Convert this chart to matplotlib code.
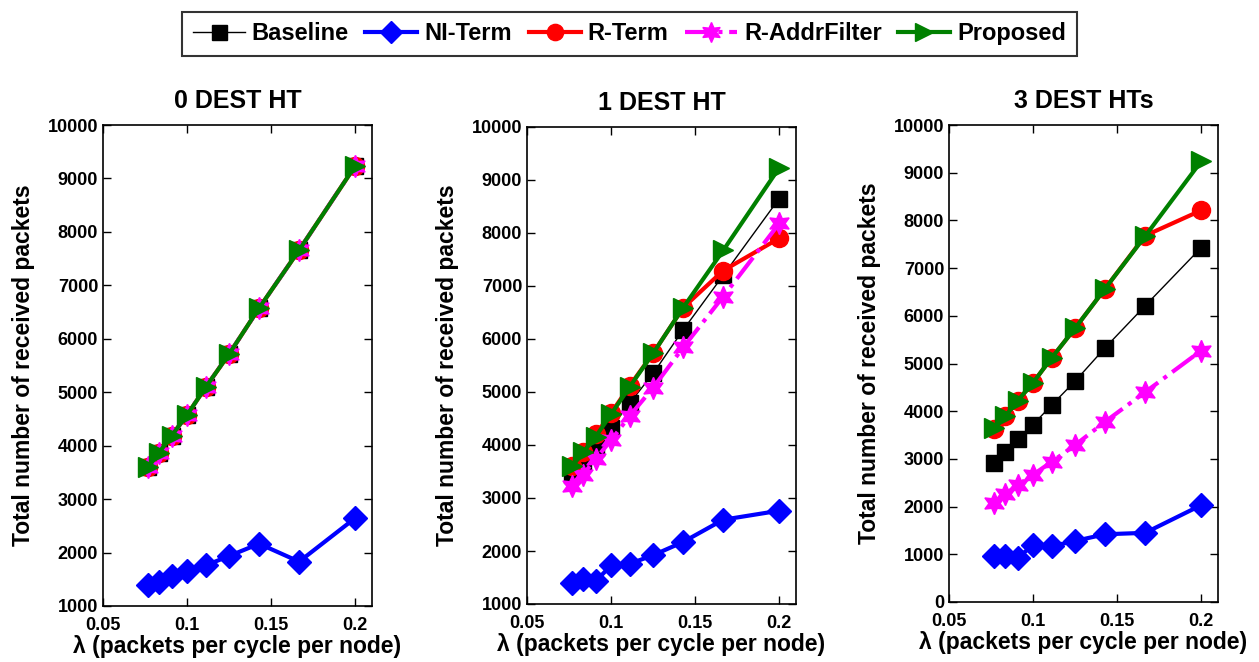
import matplotlib
matplotlib.use("Agg")
import matplotlib.pyplot as plt

plt.rcParams["font.family"] = ["Liberation Sans", "DejaVu Sans"]
plt.rcParams["font.weight"] = "bold"

lam = [1 / 13, 1 / 12, 1 / 11, 1 / 10, 1 / 9, 1 / 8, 1 / 7, 1 / 6, 1 / 5]
titles = ["0 DEST HT", "1 DEST HT", "3 DEST HTs"]
series_names = ["Baseline", "NI-Term", "R-Term", "R-AddrFilter", "Proposed"]

# panel 0: everything except NI-Term overlaps
p0_common = [3600, 3870, 4190, 4575, 5095, 5715, 6575, 7660, 9235]
p0_ni = [1395, 1450, 1570, 1660, 1760, 1935, 2165, 1830, 2645]

p1_baseline = [3440, 3700, 3950, 4320, 4790, 5350, 6170, 7200, 8650]
p1_ni = [1400, 1470, 1430, 1730, 1760, 1920, 2170, 2590, 2760]
p1_rterm = [3610, 3860, 4200, 4600, 5120, 5730, 6590, 7290, 7900]
p1_addr = [3220, 3440, 3740, 4090, 4550, 5080, 5840, 6800, 8180]
p1_prop = [3600, 3860, 4160, 4580, 5100, 5730, 6590, 7670, 9230]

p2_baseline = [2920, 3150, 3410, 3720, 4130, 4630, 5330, 6210, 7430]
p2_ni = [970, 970, 920, 1200, 1170, 1280, 1420, 1450, 2030]
p2_rterm = [3620, 3890, 4220, 4600, 5120, 5740, 6570, 7680, 8210]
p2_addr = [2080, 2260, 2450, 2670, 2940, 3290, 3780, 4400, 5270]
p2_prop = [3640, 3890, 4220, 4600, 5120, 5740, 6570, 7670, 9240]

panels = [
    [p0_common, p0_ni, p0_common, p0_common, p0_common],
    [p1_baseline, p1_ni, p1_rterm, p1_addr, p1_prop],
    [p2_baseline, p2_ni, p2_rterm, p2_addr, p2_prop],
]
ylims = [(1000, 10000), (1000, 10000), (0, 10000)]

styles = [
    dict(color="black", lw=1, ls="-", marker="s", ms=12),
    dict(color="blue", lw=3, ls="-", marker="D", ms=12),
    dict(color="red", lw=3, ls="-", marker="o", ms=13),
    dict(color="magenta", lw=3, ls="-.", marker=(6, 1, 0), ms=16),
    dict(color=(0, 0.5, 0), lw=3, ls="-", marker=">", ms=15),
]

fig = plt.figure(figsize=(12.59, 6.62), dpi=100)
W, H = 1259, 662
lefts = [103, 527, 949]
tops = [125, 127, 125]
bottoms = [606, 604, 602]
for i in range(3):
    ax = fig.add_axes([lefts[i] / W, (H - bottoms[i]) / H, 269 / W, (bottoms[i] - tops[i]) / H])
    handles = []
    for name, ys, st in zip(series_names, panels[i], styles):
        h, = ax.plot(lam, ys, label=name, **st)
        handles.append(h)
    ax.set_xlim(0.05, 0.21)
    ax.set_ylim(*ylims[i])
    ax.set_xticks([0.05, 0.1, 0.15, 0.2])
    ax.set_xticklabels(["0.05", "0.1", "0.15", "0.2"])
    lo, hi = ylims[i]
    ax.set_yticks(list(range(lo, hi + 1, 1000)))
    ax.tick_params(direction="in", top=True, right=True, labelsize=13, length=6, width=1)
    ax.tick_params(axis="x", pad=8)
    for lab in ax.get_xticklabels() + ax.get_yticklabels():
        lab.set_fontweight("bold")
    for sp in ax.spines.values():
        sp.set_linewidth(1.2)
    ax.set_title(titles[i], fontsize=18, fontweight="bold", pad=12)
    ax.set_xlabel("\u03bb (packets per cycle per node)", fontsize=16.5, fontweight="bold", labelpad=1)
    ax.set_ylabel("Total number of received packets", fontsize=16.5, fontweight="bold", labelpad=9)

leg = fig.legend(handles=handles, loc="upper center", bbox_to_anchor=(0.5, 1.0), ncol=5,
                 fontsize=17, frameon=True, fancybox=False, edgecolor="black",
                 handlelength=2.2, columnspacing=0.7, handletextpad=0.3, borderpad=0.45,
                 markerscale=0.9)
leg.get_frame().set_linewidth(1.5)
for t in leg.get_texts():
    t.set_fontweight("bold")

fig.savefig("out.png", dpi=100)
